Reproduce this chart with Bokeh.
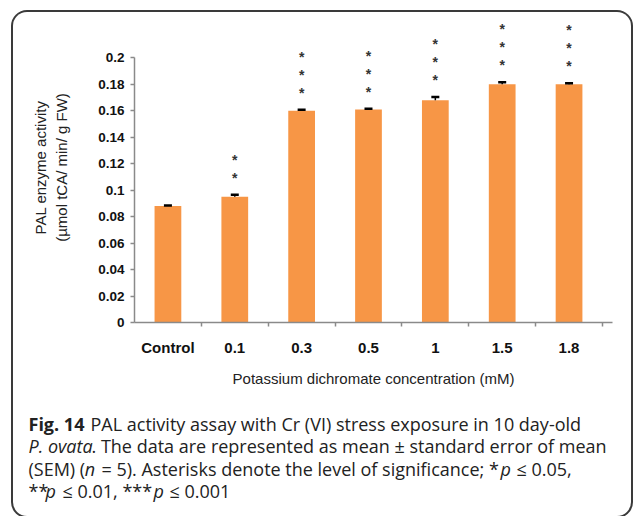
from bokeh.plotting import figure
from bokeh.layouts import column
from bokeh.models import (Range1d, FixedTicker, NumeralTickFormatter, ColumnDataSource,
                          Whisker, TeeHead, Label)
from bokeh.core.properties import value
from bokeh.embed import file_html
from bokeh.resources import INLINE

# ---- data ----
categories = ["Control", "0.1", "0.3", "0.5", "1", "1.5", "1.8"]
pal_activity = [0.088, 0.095, 0.160, 0.161, 0.168, 0.180, 0.180]
sem = [0.0005, 0.0015, 0.0008, 0.0005, 0.0025, 0.0015, 0.0008]
n_stars = [0, 2, 3, 3, 3, 3, 3]
y_ticks = [0, 0.02, 0.04, 0.06, 0.08, 0.1, 0.12, 0.14, 0.16, 0.18, 0.2]
x_label = "Potassium dichromate concentration (mM)"
y_label = "PAL enzyme activity\n(\u00b5mol tCA/ min/ g FW)"

BAR = "#F79646"
AXIS = "#8a8a8a"

xs = [i + 0.5 for i in range(len(categories))]
bounds_ticks = [i + 1 for i in range(len(categories))]

p = figure(width=618, height=390,
           x_range=Range1d(0, 7.15), y_range=Range1d(0, 0.2343),
           output_backend="svg", toolbar_location=None,
           min_border_left=121, min_border_right=19,
           min_border_top=0, min_border_bottom=80)
p.frame_align = False
p.xgrid.visible = False
p.ygrid.visible = False
p.outline_line_color = None
p.background_fill_color = None
p.border_fill_color = None

src = ColumnDataSource(dict(x=xs, v=pal_activity,
                            up=[v + e for v, e in zip(pal_activity, sem)]))
p.vbar(x="x", top="v", width=0.4, source=src, fill_color=BAR, line_color=None)

wh = Whisker(source=src, base="x", upper="up", lower="v", line_color="black",
             line_width=1.5, level="annotation",
             upper_head=TeeHead(size=8, line_color="black", line_width=2.5),
             lower_head=None)
p.add_layout(wh)

# significance asterisks
sx, sy, st, so = [], [], [], []
for i, n in enumerate(n_stars):
    for k in range(n):
        sx.append(xs[i])
        sy.append(pal_activity[i] + sem[i])
        st.append("*")
        so.append(-(17 + 18 * k))
p.text(x=sx, y=sy, text=st, y_offset=so, text_align="center", text_baseline="middle",
       text_font=value("Liberation Sans"), text_font_style="bold",
       text_font_size="14px", text_color="#333333")

# x axis
xa = p.xaxis[0]
xa.ticker = FixedTicker(ticks=xs, minor_ticks=bounds_ticks)
xa.major_label_overrides = {x: c for x, c in zip(xs, categories)}
xa.major_tick_line_color = None
xa.major_tick_out = 0
xa.major_tick_in = 0
xa.minor_tick_line_color = AXIS
xa.minor_tick_line_width = 1.5
xa.minor_tick_out = 4
xa.minor_tick_in = 0
xa.axis_line_color = AXIS
xa.axis_line_width = 1.5
xa.major_label_standoff = 12
xa.major_label_text_font = "Liberation Sans"
xa.major_label_text_font_style = "bold"
xa.major_label_text_font_size = "15px"
xa.major_label_text_color = "#111111"
xa.axis_label = x_label
xa.axis_label_text_font = "Liberation Sans"
xa.axis_label_text_font_style = "normal"
xa.axis_label_text_font_size = "15px"
xa.axis_label_text_color = "#222222"
xa.axis_label_standoff = 11

# y axis
ya = p.yaxis[0]
ya.ticker = FixedTicker(ticks=y_ticks)
ya.formatter = NumeralTickFormatter(format="0.[00]")
ya.bounds = (0, 0.2)
ya.axis_line_color = AXIS
ya.axis_line_width = 1.5
ya.major_tick_line_color = AXIS
ya.major_tick_line_width = 1.5
ya.major_tick_out = 4
ya.major_tick_in = 0
ya.minor_tick_line_color = None
ya.major_label_standoff = 6
ya.major_label_text_font = "Liberation Sans"
ya.major_label_text_font_style = "bold"
ya.major_label_text_font_size = "13.5px"
ya.major_label_text_color = "#111111"
ya.axis_label = y_label
ya.axis_label_text_font = "Liberation Sans"
ya.axis_label_text_font_style = "normal"
ya.axis_label_text_font_size = "15px"
ya.axis_label_text_color = "#222222"
ya.axis_label_text_line_height = 1.25
ya.axis_label_standoff = 25

# ---- caption figure (pixel coordinate space) ----
CW, CH = 618, 114
c = figure(width=CW, height=CH, x_range=Range1d(0, CW), y_range=Range1d(CH, 0),
           x_axis_location=None, y_axis_location=None, output_backend="svg",
           toolbar_location=None, min_border=0)
c.frame_align = False
c.xgrid.visible = False
c.ygrid.visible = False
c.outline_line_color = None
c.background_fill_color = None
c.border_fill_color = None

cap_font = "Open Sans"
cap_size = "18px"
X0 = 15
lines_y = [21, 43.5, 66, 88.5]
caption_runs = [
    # (line, dx, text, style)
    (0, 0, "Fig. 14", "bold"),
    (0, 62, "PAL activity assay with Cr (VI) stress exposure in 10 day-old", "normal"),
    (1, 0, "P. ovata", "italic"),
    (1, 63, ". The data are represented as mean \u00b1 standard error of mean", "normal"),
    (2, 0, "(SEM) (", "normal"),
    (2, 56.3, "n", "italic"),
    (2, 73, "= 5). Asterisks denote the level of significance; *", "normal"),
    (2, 472, "p", "italic"),
    (2, 488, "\u2264 0.05,", "normal"),
    (3, 0, "**", "normal"),
    (3, 17, "p", "italic"),
    (3, 34, "\u2264 0.01, ***", "normal"),
    (3, 125, "p", "italic"),
    (3, 141, "\u2264 0.001", "normal"),
]
for ln, dx, txt, sty in caption_runs:
    c.add_layout(Label(x=X0 + dx, y=lines_y[ln],
                       text=txt, text_font=cap_font, text_font_size=cap_size,
                       text_font_style=sty, text_color="#222222",
                       text_baseline="alphabetic", text_align="left"))

layout = column(p, c, margin=(12, 0, 0, 13), spacing=0,
                styles={"box-shadow": "0 0 0 2px #3a3a3a", "border-radius": "14px"})

open("out.html", "w").write(file_html(layout, INLINE))
